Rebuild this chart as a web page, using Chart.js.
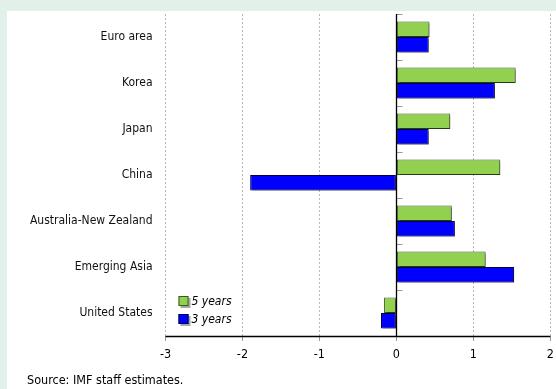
<!DOCTYPE html>
<html>
<head>
<meta charset="utf-8">
<script src="https://cdn.jsdelivr.net/npm/chart.js@4/dist/chart.umd.min.js"></script>
<style>
  html, body { margin: 0; padding: 0; background: #e1f0e8; }
  #wrap { position: absolute; left: 0; top: 0; width: 556px; height: 389px; }
</style>
</head>
<body>
<div id="wrap"><canvas id="c" width="556" height="389"></canvas></div>
<script>
const categories = ['Euro area', 'Korea', 'Japan', 'China', 'Australia-New Zealand', 'Emerging Asia', 'United States'];
const fiveYears  = [0.43, 1.55, 0.70, 1.35, 0.72, 1.16, -0.16];
const threeYears = [0.42, 1.28, 0.42, -1.90, 0.76, 1.53, -0.20];
const seriesLabels = ['5 years', '3 years'];
const sourceNote = 'Source: IMF staff estimates.';

const FONT = '"DejaVu Sans Condensed", "Liberation Sans Narrow", sans-serif';
const FSIZE = 12;

// Page panel, bar shadows, zero line, axis line and in-plot legend
const decor = {
  id: 'decor',
  beforeDraw(chart) {
    const ctx = chart.ctx;
    ctx.save();
    ctx.fillStyle = '#e1f0e8';
    ctx.fillRect(0, 0, chart.width, chart.height);
    ctx.fillStyle = '#ffffff';
    ctx.fillRect(7, 11, chart.width - 7, chart.height - 11);
    ctx.restore();
  },
  beforeDatasetsDraw(chart) {
    const ctx = chart.ctx;
    ctx.save();
    ctx.shadowColor = 'rgba(0,0,0,0.35)';
    ctx.shadowOffsetX = 2;
    ctx.shadowOffsetY = 2;
    ctx.shadowBlur = 0;
  },
  afterDatasetsDraw(chart) {
    const ctx = chart.ctx;
    ctx.restore();
    const {left, right, top, bottom} = chart.chartArea;
    const x = chart.scales.x;
    const x0 = Math.round(x.getPixelForValue(0)) + 0.5;
    ctx.save();
    // category separators on the zero line
    const step = (bottom - top) / categories.length;
    ctx.strokeStyle = '#999';
    ctx.lineWidth = 1;
    for (let i = 0; i < categories.length; i++) {
      const yy = Math.round(top + i * step) + 0.5;
      ctx.beginPath();
      ctx.moveTo(x0, yy);
      ctx.lineTo(x0 + 6, yy);
      ctx.stroke();
    }
    // zero line
    ctx.strokeStyle = '#000';
    ctx.lineWidth = 1.3;
    ctx.beginPath();
    ctx.moveTo(x0, top);
    ctx.lineTo(x0, bottom);
    ctx.stroke();
    // category axis line
    ctx.beginPath();
    ctx.moveTo(left, Math.round(bottom) + 0.5);
    ctx.lineTo(right, Math.round(bottom) + 0.5);
    ctx.stroke();

    // legend in lower-left of the plot
    const ds = chart.data.datasets;
    const lx = left + 13, ly = bottom - 35;
    ctx.font = 'italic ' + FSIZE + 'px ' + FONT;
    ctx.textBaseline = 'middle';
    ds.forEach((d, i) => {
      const yy = ly + i * 18;
      ctx.fillStyle = 'rgba(0,0,0,0.35)';
      ctx.fillRect(lx + 2, yy - 3, 10, 10);
      ctx.fillStyle = d.backgroundColor;
      ctx.fillRect(lx, yy - 5, 10, 10);
      ctx.strokeStyle = d.borderColor;
      ctx.lineWidth = 1;
      ctx.strokeRect(lx + 0.5, yy - 4.5, 9, 9);
      ctx.fillStyle = '#000';
      ctx.fillText(d.label, lx + 13, yy + 1);
    });

    // source note
    ctx.font = '12.5px ' + FONT;
    ctx.fillStyle = '#000';
    ctx.textBaseline = 'middle';
    ctx.fillText(sourceNote, 27, 381);
    ctx.restore();
  }
};

new Chart(document.getElementById('c'), {
  type: 'bar',
  data: {
    labels: categories,
    datasets: [
      { label: seriesLabels[0], data: fiveYears, backgroundColor: '#92d050', borderColor: '#3a5a1c',
        borderWidth: 1, borderSkipped: false },
      { label: seriesLabels[1], data: threeYears, backgroundColor: '#0000ff', borderColor: '#00004a',
        borderWidth: 1, borderSkipped: false }
    ]
  },
  options: {
    indexAxis: 'y',
    responsive: false,
    animation: false,
    devicePixelRatio: 1,
    layout: { padding: { left: 0, top: 14, right: 5.7, bottom: 23 } },
    datasets: { bar: { categoryPercentage: 0.67, barPercentage: 1.0 } },
    plugins: { legend: { display: false }, tooltip: { enabled: false } },
    scales: {
      x: {
        min: -3, max: 2,
        ticks: { stepSize: 1, color: '#000', font: { family: FONT, size: 12.5 }, padding: 6,
                 callback: v => (v < 0 ? '-' + Math.abs(v) : String(v)) },
        grid: { color: '#b8b8b8', lineWidth: 1, tickLength: 5, tickColor: '#999' },
        border: { display: false, dash: [2, 2] },
        afterFit(s) { s.height = 30; s.paddingLeft = 0; s.paddingRight = 0; }
      },
      y: {
        ticks: { color: '#111', font: { family: FONT, size: FSIZE }, padding: 13 },
        grid: { display: false, drawTicks: false },
        border: { display: false },
        afterFit(s) { s.width = 165.5; s.paddingTop = 0; s.paddingBottom = 0; }
      }
    }
  },
  plugins: [decor]
});
</script>
</body>
</html>
